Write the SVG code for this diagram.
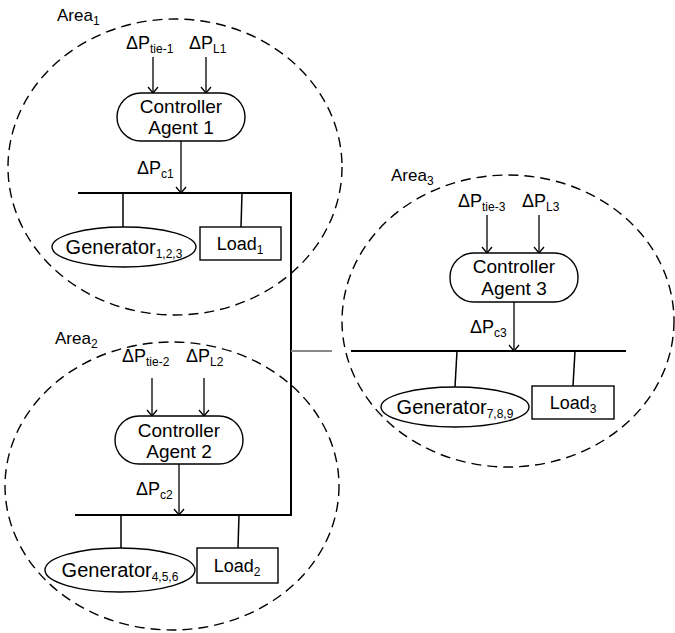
<svg xmlns="http://www.w3.org/2000/svg" width="675" height="633" viewBox="0 0 675 633">
<style>
text{font-family:"Liberation Sans",Arial,sans-serif;fill:#000}
.t{font-size:19px}
.ld{font-size:18px}
.g{font-size:20px}
.lab{font-size:18px}
.ar{font-size:17px}
.sub{font-size:12px}
.area{fill:none;stroke:#000;stroke-width:1.4;stroke-dasharray:10,6}
.box{fill:#fff;stroke:#000;stroke-width:1.4}
.ln{stroke:#000;stroke-width:1.5;fill:none}
.bus{stroke:#000;stroke-width:2;fill:none}
.arr{stroke:#000;stroke-width:1.3;fill:none;marker-end:url(#ah)}
</style>
<defs>
<marker id="ah" markerUnits="userSpaceOnUse" markerWidth="14" markerHeight="14" refX="7" refY="7" orient="auto" viewBox="0 0 14 14">
<path d="M1,2 L7,7 L1,12" fill="none" stroke="#000" stroke-width="1.3"/>
</marker>
</defs>
<rect width="675" height="633" fill="#fff"/>

<g id="area1">
<ellipse class="area" cx="175" cy="167" rx="167" ry="148"/>
<text class="ar" x="57" y="21">Area<tspan class="sub" dy="4">1</tspan></text>
</g>
<g id="area2">
<ellipse class="area" cx="172" cy="486" rx="167" ry="144"/>
<text class="ar" x="55" y="344">Area<tspan class="sub" dy="4">2</tspan></text>
</g>
<g id="area3">
<ellipse class="area" cx="508" cy="321" rx="166" ry="146"/>
<text class="ar" x="391" y="181">Area<tspan class="sub" dy="4">3</tspan></text>
</g>

<g id="connectors">
<line class="arr" x1="153" y1="57" x2="153" y2="93"/>
<line class="arr" x1="206" y1="57" x2="206" y2="93"/>
<line class="arr" x1="181" y1="141" x2="181" y2="193"/>
<line class="arr" x1="152" y1="378" x2="152" y2="416"/>
<line class="arr" x1="204" y1="378" x2="204" y2="416"/>
<line class="arr" x1="179" y1="464" x2="179" y2="515"/>
<line class="arr" x1="487" y1="215" x2="487" y2="253"/>
<line class="arr" x1="539" y1="215" x2="539" y2="253"/>
<line class="arr" x1="514" y1="302" x2="514" y2="351"/>
<polyline class="bus" points="78,193 291,193 291,515 75,515"/>
<line x1="291" y1="351" x2="332" y2="351" stroke="#888" stroke-width="2"/>
<line class="bus" x1="351" y1="351" x2="626" y2="351"/>
<line class="ln" x1="123" y1="193" x2="123" y2="227"/>
<line class="ln" x1="242" y1="193" x2="241" y2="227"/>
<line class="ln" x1="121" y1="515" x2="121" y2="548"/>
<line class="ln" x1="239" y1="515" x2="238" y2="548"/>
<line class="ln" x1="457" y1="351" x2="455" y2="387"/>
<line class="ln" x1="575" y1="351" x2="573" y2="386"/>
</g>

<g id="inputs1">
<text class="lab" x="126" y="49">ΔP<tspan class="sub" dy="4">tie-1</tspan></text>
<text class="lab" x="189" y="49">ΔP<tspan class="sub" dy="4">L1</tspan></text>
<text class="lab" x="137" y="174">ΔP<tspan class="sub" dy="4">c1</tspan></text>
</g>
<g id="inputs2">
<text class="lab" x="122" y="362">ΔP<tspan class="sub" dy="4">tie-2</tspan></text>
<text class="lab" x="186" y="362">ΔP<tspan class="sub" dy="4">L2</tspan></text>
<text class="lab" x="136" y="495">ΔP<tspan class="sub" dy="4">c2</tspan></text>
</g>
<g id="inputs3">
<text class="lab" x="458" y="207">ΔP<tspan class="sub" dy="4">tie-3</tspan></text>
<text class="lab" x="522" y="207">ΔP<tspan class="sub" dy="4">L3</tspan></text>
<text class="lab" x="470" y="333">ΔP<tspan class="sub" dy="4">c3</tspan></text>
</g>

<g id="agent1">
<rect class="box" x="117" y="93" width="128" height="48" rx="24"/>
<text class="t" x="181" y="113" text-anchor="middle">Controller</text>
<text class="t" x="181" y="134" text-anchor="middle">Agent 1</text>
</g>
<g id="agent2">
<rect class="box" x="115" y="416" width="128" height="48" rx="24"/>
<text class="t" x="179" y="437" text-anchor="middle">Controller</text>
<text class="t" x="179" y="458" text-anchor="middle">Agent 2</text>
</g>
<g id="agent3">
<rect class="box" x="450" y="253" width="128" height="49" rx="24"/>
<text class="t" x="514" y="273" text-anchor="middle">Controller</text>
<text class="t" x="514" y="295" text-anchor="middle">Agent 3</text>
</g>

<g id="gen1">
<ellipse class="box" cx="124" cy="247" rx="72" ry="20"/>
<text class="g" x="124" y="254" text-anchor="middle">Generator<tspan class="sub" dy="4">1,2,3</tspan></text>
</g>
<g id="load1">
<rect class="box" x="200" y="227" width="81" height="33"/>
<text class="ld" x="240" y="250" text-anchor="middle">Load<tspan class="sub" dy="4">1</tspan></text>
</g>
<g id="gen2">
<ellipse class="box" cx="120" cy="570" rx="75" ry="22"/>
<text class="g" x="120" y="577" text-anchor="middle">Generator<tspan class="sub" dy="4">4,5,6</tspan></text>
</g>
<g id="load2">
<rect class="box" x="197" y="548" width="81" height="35"/>
<text class="ld" x="237" y="572" text-anchor="middle">Load<tspan class="sub" dy="4">2</tspan></text>
</g>
<g id="gen3">
<ellipse class="box" cx="455" cy="407" rx="74" ry="20"/>
<text class="g" x="455" y="414" text-anchor="middle">Generator<tspan class="sub" dy="4">7,8,9</tspan></text>
</g>
<g id="load3">
<rect class="box" x="532" y="386" width="82" height="33"/>
<text class="ld" x="573" y="409" text-anchor="middle">Load<tspan class="sub" dy="4">3</tspan></text>
</g>
</svg>
